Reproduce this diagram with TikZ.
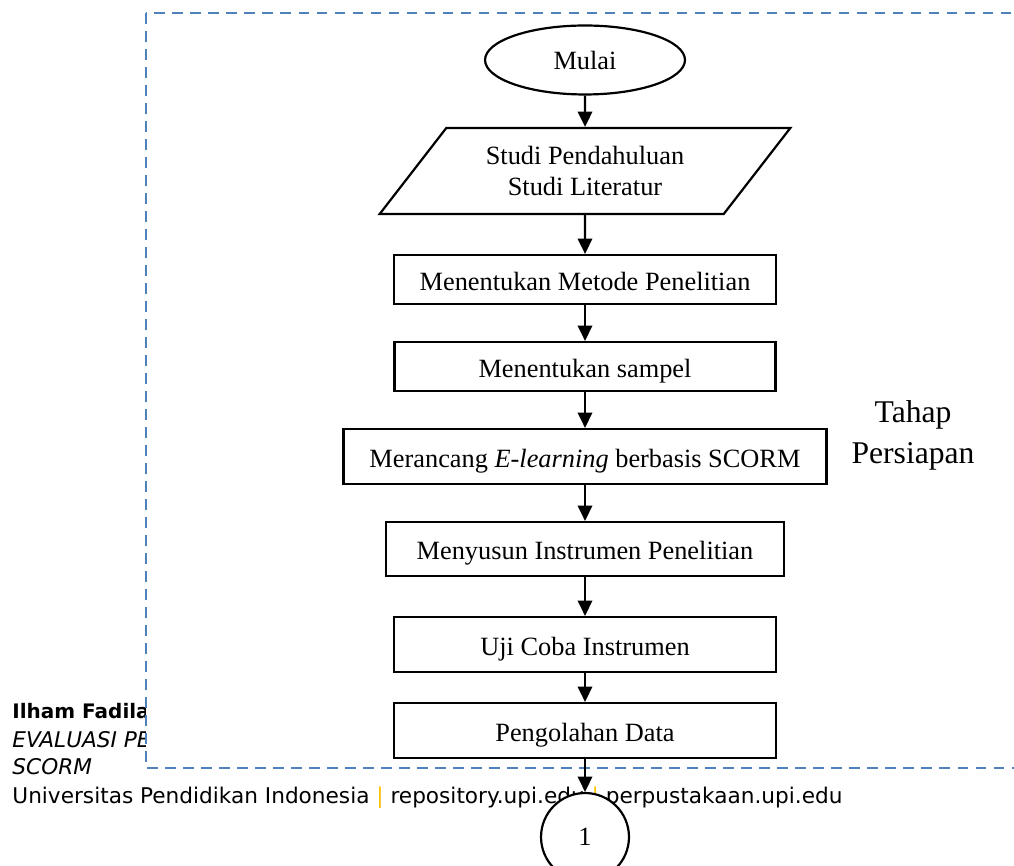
\documentclass[tikz,border=0pt]{standalone}
\usepackage{fontspec}
\setmainfont{Liberation Serif}
\newfontfamily\footerfont{DejaVu Sans}
\usepackage{tikz}
\usetikzlibrary{shapes.geometric,arrows.meta}
\definecolor{boxblue}{RGB}{79,129,189}
\definecolor{pipeorange}{RGB}{255,192,0}

\begin{document}
\begin{tikzpicture}[x=0.016cm,y=-0.016cm, % pixel grid 1014 x 866
   txt/.style={font=\fontsize{12}{14}\selectfont},
   stepbox/.style={txt,draw,line width=1pt,rectangle,inner sep=0pt,text height=10pt,text depth=0.4pt},
   flow/.style={-{Triangle[length=7pt,width=6.6pt]},line width=1pt},
   foot/.style={anchor=base west,inner sep=0pt,font=\footerfont\fontsize{9.85}{12}\selectfont}]
   \useasboundingbox (0,0) rectangle (1014,866);

   % page footer behind the figure
   \node[foot,font=\footerfont\fontsize{9.1}{12}\selectfont] (nama) at (12,718) {\bfseries Ilham Fadila};
   \node[foot] (judul) at (12,747) {\itshape EVALUASI PE};
   \node[foot] (judulb) at (12,774) {\itshape SCORM};
   \node[foot] (univ) at (12,803) {Universitas Pendidikan Indonesia {\color{pipeorange}|} repository.upi.edu {\color{pipeorange}|} perpustakaan.upi.edu};

   \filldraw[fill=white,draw=boxblue,line width=1.2pt,dash pattern=on 4.8pt off 3.4pt] (146,13) rectangle (1030,768);

   \node[txt,draw,ellipse,line width=1pt,inner sep=0pt,minimum width=3.2cm,minimum height=1.104cm] (mulai) at (585,60) {Mulai};
   \node[txt,draw,trapezium,trapezium left angle=46,trapezium right angle=134,trapezium stretches=true,
         line width=1pt,inner sep=0pt,minimum width=6.576cm,minimum height=1.376cm,align=center] (studi) at (585,171)
         {Studi Pendahuluan\\Studi Literatur};
   \node[stepbox,minimum width=6.112cm,minimum height=0.784cm] (metode) at (585,279.5) {Menentukan Metode Penelitian};
   \node[stepbox,minimum width=6.096cm,minimum height=0.784cm] (sampel) at (585,366.5) {Menentukan sampel};
   \node[stepbox,minimum width=7.728cm,minimum height=0.88cm] (rancang) at (585,456.5) {Merancang \textit{E-learning} berbasis SCORM};
   \node[stepbox,minimum width=6.368cm,minimum height=0.864cm] (susun) at (585,549) {Menyusun Instrumen Penelitian};
   \node[stepbox,minimum width=6.112cm,minimum height=0.88cm] (ujicoba) at (585,644.5) {Uji Coba Instrumen};
   \node[stepbox,minimum width=6.112cm,minimum height=0.88cm] (olah) at (585,730.5) {Pengolahan Data};
   \node[txt,draw,circle,fill=white,line width=1pt,inner sep=0pt,minimum size=1.408cm] (satu) at (585,837) {1};

   \node[align=center,inner sep=0pt,font=\fontsize{14.4}{18.7}\selectfont] (tahap) at (913,435) {Tahap\\Persiapan};

   \draw[flow] (mulai) -- (studi);
   \draw[flow] (studi) -- (metode);
   \draw[flow] (metode) -- (sampel);
   \draw[flow] (sampel) -- (rancang);
   \draw[flow] (rancang) -- (susun);
   \draw[flow] (susun) -- (ujicoba);
   \draw[flow] (ujicoba) -- (olah);
   \draw[flow] (olah) -- (satu);
  \end{tikzpicture}
\end{document}
